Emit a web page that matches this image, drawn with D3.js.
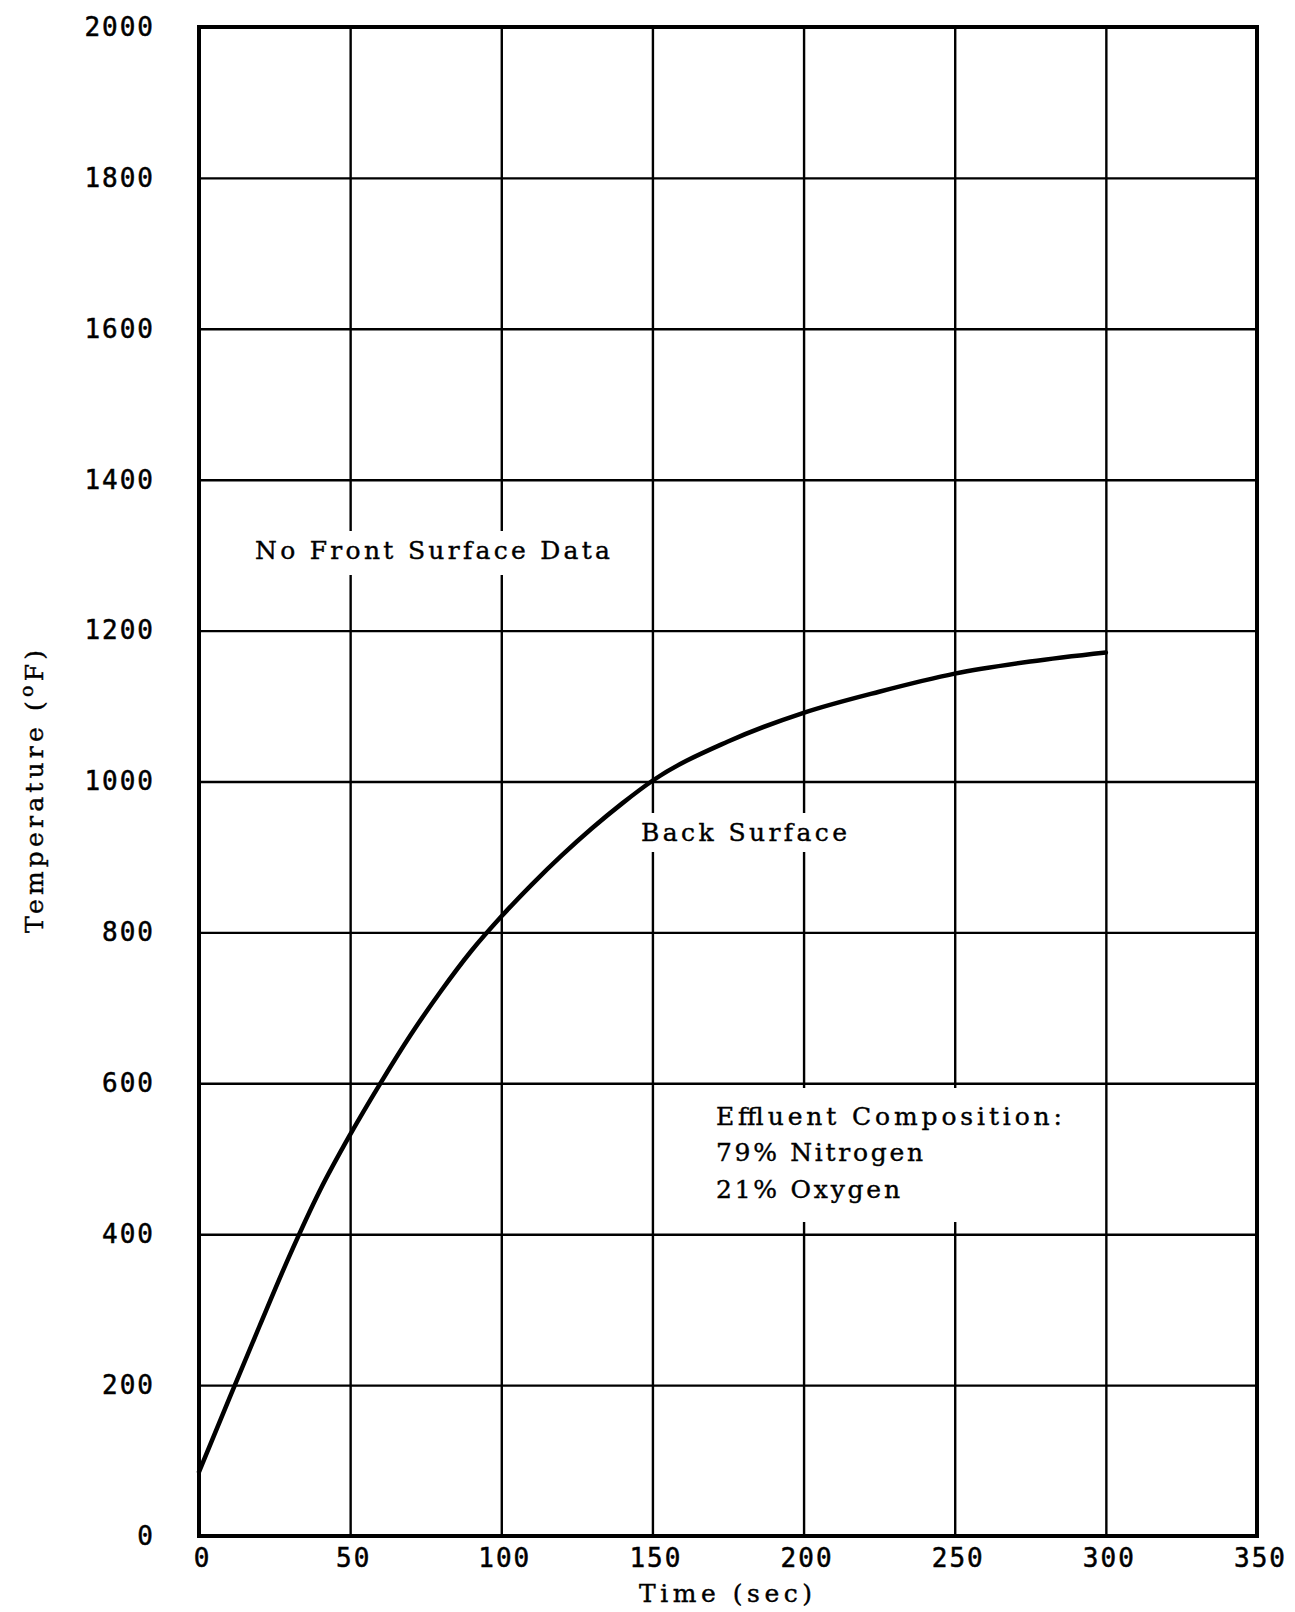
<!DOCTYPE html>
<html>
<head>
<meta charset="utf-8">
<script src="https://cdn.jsdelivr.net/npm/d3@7"></script>
<style>
  html, body { margin: 0; padding: 0; background: #fff; }
  svg { display: block; }
</style>
</head>
<body>
<script>
// Back-surface temperature history
const timeSec = [0, 10, 20, 30, 40, 50, 60, 70, 80, 90, 100, 110, 120, 130, 140, 150, 175, 200, 225, 250, 275, 300];
const tempF   = [85, 182, 278, 372, 458, 532, 600, 664, 722, 775, 821, 863, 902, 938, 971, 1001, 1053, 1091, 1119, 1143, 1159, 1171];

const xTicks = [0, 50, 100, 150, 200, 250, 300, 350];
const yTicks = [0, 200, 400, 600, 800, 1000, 1200, 1400, 1600, 1800, 2000];

const xTitle = "Time (sec)";
const yTitle = "Temperature (";
const yTitleSup = "o";
const yTitleEnd = "F)";
const noteFront = "No Front Surface Data";
const noteBack = "Back Surface";
const noteGas = ["Effluent Composition:", "79% Nitrogen", "21% Oxygen"];

const W = 1295, H = 1612;
const plotL = 199, plotR = 1257, plotT = 27, plotB = 1536;

const svg = d3.select("body").append("svg")
  .attr("width", W).attr("height", H)
  .style("background", "#fff");

const x = d3.scaleLinear().domain([0, 350]).range([plotL, plotR]);
const y = d3.scaleLinear().domain([0, 2000]).range([plotB, plotT]);

const tickFont = "'DejaVu Sans Mono', monospace";
const textFont = "'DejaVu Serif', serif";

// Grid via axes
const gx = svg.append("g")
  .attr("transform", `translate(0,${plotB})`)
  .call(d3.axisBottom(x).tickValues(xTicks).tickSize(-(plotB - plotT)).tickPadding(13).tickFormat(d3.format("d")));
const gy = svg.append("g")
  .attr("transform", `translate(${plotL},0)`)
  .call(d3.axisLeft(y).tickValues(yTicks).tickSize(-(plotR - plotL)).tickPadding(44).tickFormat(d3.format("d")));

[gx, gy].forEach(g => {
  g.select(".domain").remove();
  g.selectAll(".tick line").attr("stroke", "#000").attr("stroke-width", 2.4);
  g.selectAll(".tick text")
    .attr("fill", "#000")
    .attr("stroke", "#000").attr("stroke-width", 0.5)
    .style("font-family", tickFont)
    .style("font-size", "26px")
    .style("letter-spacing", "2px");
});
gx.selectAll(".tick text").attr("dx", 3);

// White boxes behind the annotations
const masks = [
  [248, 531, 370, 44],
  [634, 813, 218, 39],
  [708, 1088, 362, 134]
];
svg.append("g").selectAll("rect").data(masks).join("rect")
  .attr("x", d => d[0]).attr("y", d => d[1])
  .attr("width", d => d[2]).attr("height", d => d[3])
  .attr("fill", "#fff");

// Frame
svg.append("rect")
  .attr("x", x(0)).attr("y", y(2000))
  .attr("width", x(350) - x(0)).attr("height", y(0) - y(2000))
  .attr("fill", "none").attr("stroke", "#000").attr("stroke-width", 4);

// Annotations
function note(str, tx, ty, len) {
  svg.append("text")
    .attr("x", tx).attr("y", ty)
    .attr("textLength", len).attr("lengthAdjust", "spacing")
    .style("font-family", textFont).style("font-size", "25px")
    .attr("fill", "#000")
    .attr("stroke", "#000").attr("stroke-width", 0.4)
    .text(str);
}
note(noteFront, 255, 559, 355);
note(noteBack, 641, 841, 206);
note(noteGas[0], 716, 1125, 346);
note(noteGas[1], 716, 1161, 207);
note(noteGas[2], 716, 1198, 184);

// Axis titles
svg.append("text")
  .attr("x", 639).attr("y", 1602)
  .attr("textLength", 173).attr("lengthAdjust", "spacing")
  .style("font-family", textFont).style("font-size", "25px")
  .attr("fill", "#000")
  .attr("stroke", "#000").attr("stroke-width", 0.4)
  .text(xTitle);

const yt = svg.append("text")
  .attr("transform", "translate(43,933) rotate(-90)")
  .attr("textLength", 283).attr("lengthAdjust", "spacing")
  .style("font-family", textFont).style("font-size", "25px")
  .attr("fill", "#000")
  .attr("stroke", "#000").attr("stroke-width", 0.4);
yt.append("tspan").text(yTitle);
yt.append("tspan").attr("dy", -10).style("font-size", "19px").text(yTitleSup);
yt.append("tspan").attr("dy", 10).text(yTitleEnd);

// Curve
const line = d3.line()
  .x((d, i) => x(timeSec[i]))
  .y(d => y(d))
  .curve(d3.curveMonotoneX);
svg.append("path")
  .attr("d", line(tempF))
  .attr("fill", "none")
  .attr("stroke", "#000")
  .attr("stroke-width", 4.5)
  .attr("stroke-linecap", "round")
  .attr("stroke-linejoin", "round");
</script>
</body>
</html>
